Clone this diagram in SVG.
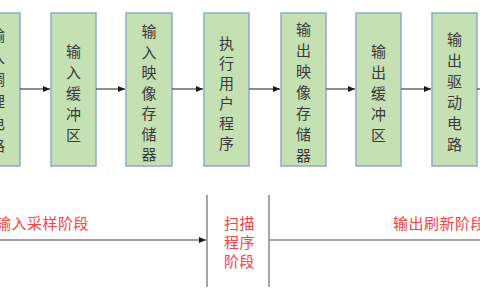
<svg xmlns="http://www.w3.org/2000/svg" width="480" height="300" viewBox="0 0 480 300">
<style>
.box{fill:#c5e0b3;stroke:#8ea9cf;stroke-width:1.5}
.bt{font-family:"Noto Sans CJK SC","Noto Sans",sans-serif;font-size:15px;fill:#3a3a3a;text-anchor:middle;dominant-baseline:central}
.conn{stroke:#404040;stroke-width:1.2;fill:none}
.div{stroke:#a6a6a6;stroke-width:2;fill:none}
.rt{font-family:"Noto Sans CJK SC","Noto Sans",sans-serif;font-size:15px;letter-spacing:0.5px;fill:#ff4040;dominant-baseline:central}
</style>
<defs>
<marker id="ah" markerWidth="8" markerHeight="8" refX="7" refY="4" orient="auto" markerUnits="userSpaceOnUse">
<path d="M0,1 L7,4 L0,7 Z" fill="#1a1a1a"/>
</marker>
</defs>
<rect width="480" height="300" fill="#ffffff"/>
<g id="n1"><rect class="box" x="-25" y="13" width="45" height="153"/>
<text class="bt" x="-2.5"><tspan x="-2.5" y="34">输</tspan><tspan x="-2.5" y="56">入</tspan><tspan x="-2.5" y="78">调</tspan><tspan x="-2.5" y="100">理</tspan><tspan x="-2.5" y="122">电</tspan><tspan x="-2.5" y="144">路</tspan></text></g>
<g id="n2"><rect class="box" x="51" y="13" width="45" height="153"/>
<text class="bt"><tspan x="73.5" y="50">输</tspan><tspan x="73.5" y="71">入</tspan><tspan x="73.5" y="92">缓</tspan><tspan x="73.5" y="113">冲</tspan><tspan x="73.5" y="134">区</tspan></text></g>
<g id="n3"><rect class="box" x="126" y="13" width="46" height="153"/>
<text class="bt"><tspan x="149" y="30">输</tspan><tspan x="149" y="50.5">入</tspan><tspan x="149" y="71">映</tspan><tspan x="149" y="91.5">像</tspan><tspan x="149" y="112">存</tspan><tspan x="149" y="132.5">储</tspan><tspan x="149" y="153">器</tspan></text></g>
<g id="n4"><rect class="box" x="204" y="13" width="45" height="153"/>
<text class="bt"><tspan x="226.5" y="42">执</tspan><tspan x="226.5" y="62">行</tspan><tspan x="226.5" y="82">用</tspan><tspan x="226.5" y="102">户</tspan><tspan x="226.5" y="122">程</tspan><tspan x="226.5" y="142">序</tspan></text></g>
<g id="n5"><rect class="box" x="281" y="13" width="45" height="153"/>
<text class="bt"><tspan x="303.5" y="28">输</tspan><tspan x="303.5" y="49">出</tspan><tspan x="303.5" y="70">映</tspan><tspan x="303.5" y="91">像</tspan><tspan x="303.5" y="112">存</tspan><tspan x="303.5" y="133">储</tspan><tspan x="303.5" y="154">器</tspan></text></g>
<g id="n6"><rect class="box" x="356" y="13" width="45" height="153"/>
<text class="bt"><tspan x="378.5" y="50">输</tspan><tspan x="378.5" y="71">出</tspan><tspan x="378.5" y="92">缓</tspan><tspan x="378.5" y="113">冲</tspan><tspan x="378.5" y="134">区</tspan></text></g>
<g id="n7"><rect class="box" x="432" y="13" width="45" height="153"/>
<text class="bt"><tspan x="454.5" y="38">输</tspan><tspan x="454.5" y="59">出</tspan><tspan x="454.5" y="80">驱</tspan><tspan x="454.5" y="101">动</tspan><tspan x="454.5" y="122">电</tspan><tspan x="454.5" y="143">路</tspan></text></g>
<g id="connectors">
<line class="conn" x1="20" y1="89" x2="50" y2="89" marker-end="url(#ah)"/>
<line class="conn" x1="96" y1="89" x2="125" y2="89" marker-end="url(#ah)"/>
<line class="conn" x1="172" y1="89" x2="203" y2="89" marker-end="url(#ah)"/>
<line class="conn" x1="249" y1="89" x2="280" y2="89" marker-end="url(#ah)"/>
<line class="conn" x1="326" y1="89" x2="355" y2="89" marker-end="url(#ah)"/>
<line class="conn" x1="401" y1="89" x2="431" y2="89" marker-end="url(#ah)"/>
<line class="conn" x1="477" y1="89" x2="481" y2="89"/>
</g>
<g id="phases">
<line class="div" x1="207" y1="195" x2="207" y2="287"/>
<line class="div" x1="269" y1="195" x2="269" y2="287"/>
<line class="conn" x1="0" y1="240" x2="206" y2="240" marker-end="url(#ah)"/>
<line class="div" x1="269" y1="240" x2="481" y2="240"/>
<text class="rt" x="-4" y="222">输入采样阶段</text>
<text class="rt" x="224" y="222">扫描</text>
<text class="rt" x="224" y="241">程序</text>
<text class="rt" x="224" y="260">阶段</text>
<text class="rt" x="393" y="222">输出刷新阶段</text>
</g>
</svg>
